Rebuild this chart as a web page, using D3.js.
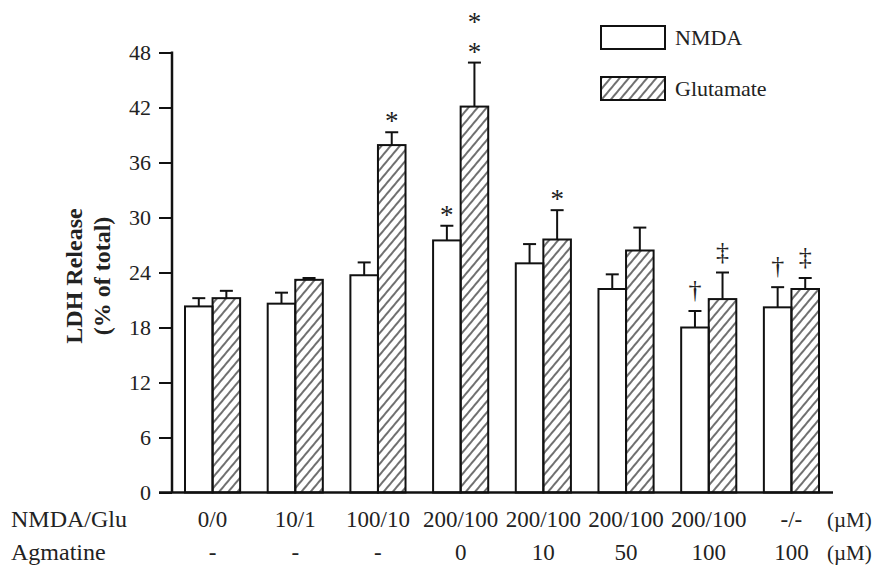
<!DOCTYPE html>
<html>
<head>
<meta charset="utf-8">
<script src="https://cdn.jsdelivr.net/npm/d3@7"></script>
<style>
  body { margin: 0; background: #fff; }
  svg { display: block; }
  text { font-family: "Liberation Serif", "Times New Roman", serif; fill: #222; }
</style>
</head>
<body>
<script>
// waarden
var groups = ["0/0", "10/1", "100/10", "200/100 a0", "200/100 a10", "200/100 a50", "200/100 a100", "-/- a100"];
var nmdaGlu = ["0/0", "10/1", "100/10", "200/100", "200/100", "200/100", "200/100", "-/-"];
var agmatine = ["-", "-", "-", "0", "10", "50", "100", "100"];
var nmda = [20.3, 20.6, 23.7, 27.5, 25.0, 22.2, 18.0, 20.2];
var nmdaErr = [0.9, 1.2, 1.4, 1.6, 2.1, 1.6, 1.8, 2.2];
var glut = [21.2, 23.2, 37.9, 42.1, 27.6, 26.4, 21.1, 22.2];
var glutErr = [0.8, 0.2, 1.4, 4.8, 3.2, 2.5, 2.9, 1.2];
var yTicks = [0, 6, 12, 18, 24, 30, 36, 42, 48];
// tekens boven de foutbalken: groep, reeks, symbolen
var marks = [
  { g: 2, s: "glut", sym: ["*"] },
  { g: 3, s: "nmda", sym: ["*"] },
  { g: 3, s: "glut", sym: ["*", "*"] },
  { g: 4, s: "glut", sym: ["*"] },
  { g: 6, s: "nmda", sym: ["\u2020"] },
  { g: 6, s: "glut", sym: ["\u2021"] },
  { g: 7, s: "nmda", sym: ["\u2020"] },
  { g: 7, s: "glut", sym: ["\u2021"] }
];

var W = 877, H = 567;
var svg = d3.select("body").append("svg")
    .attr("width", W)
    .attr("height", H);

// arcering voor glutamaat
var defs = svg.append("defs");
defs.append("pattern")
    .attr("id", "hatch")
    .attr("patternUnits", "userSpaceOnUse")
    .attr("width", 7)
    .attr("height", 7)
    .attr("patternTransform", "rotate(40)")
  .append("line")
    .attr("x1", 1).attr("y1", 0)
    .attr("x2", 1).attr("y2", 7)
    .attr("stroke", "#222")
    .attr("stroke-width", 1.3);

var x = d3.scaleBand()
    .domain(groups)
    .range([185, 819])
    .paddingInner(1 / 3)
    .paddingOuter(0);
var sub = d3.scaleBand()
    .domain(["nmda", "glut"])
    .range([0, x.bandwidth()]);
var y = d3.scaleLinear()
    .domain([0, 48])
    .range([492.5, 52.5]);

var data = groups.map(function(g, i) {
  return [
    { g: g, i: i, s: "nmda", v: nmda[i], e: nmdaErr[i] },
    { g: g, i: i, s: "glut", v: glut[i], e: glutErr[i] }
  ];
});
var flat = [].concat.apply([], data);

// y-as
var yAxis = d3.axisLeft(y).tickValues(yTicks).tickSize(13).tickPadding(8);
var gy = svg.append("g")
    .attr("transform", "translate(172,0)")
    .call(yAxis);
gy.select(".domain").remove();
gy.selectAll(".tick line").attr("stroke", "#111").attr("stroke-width", 2);
gy.selectAll(".tick text")
    .style("font-family", "Liberation Serif, serif")
    .style("font-size", "22px")
    .attr("fill", "#333");
svg.append("line")
    .attr("x1", 172).attr("x2", 172)
    .attr("y1", y(48) - 1).attr("y2", y(0))
    .attr("stroke", "#111").attr("stroke-width", 2.5);

// foutbalken
var err = svg.append("g").selectAll("g")
    .data(flat)
    .enter().append("g")
    .attr("stroke", "#111")
    .attr("stroke-width", 2);
err.append("line")
    .attr("x1", function(d) { return x(d.g) + sub(d.s) + sub.bandwidth() / 2; })
    .attr("x2", function(d) { return x(d.g) + sub(d.s) + sub.bandwidth() / 2; })
    .attr("y1", function(d) { return y(d.v); })
    .attr("y2", function(d) { return y(d.v + d.e); });
err.append("line")
    .attr("x1", function(d) { return x(d.g) + sub(d.s) + sub.bandwidth() / 2 - 6.5; })
    .attr("x2", function(d) { return x(d.g) + sub(d.s) + sub.bandwidth() / 2 + 6.5; })
    .attr("y1", function(d) { return y(d.v + d.e); })
    .attr("y2", function(d) { return y(d.v + d.e); });

// balken
svg.append("g").selectAll("rect")
    .data(flat)
    .enter().append("rect")
    .attr("x", function(d) { return x(d.g) + sub(d.s); })
    .attr("y", function(d) { return y(d.v); })
    .attr("width", sub.bandwidth())
    .attr("height", function(d) { return y(0) - y(d.v); })
    .attr("fill", function(d) { return d.s === "glut" ? "url(#hatch)" : "#fff"; })
    .attr("stroke", "#111")
    .attr("stroke-width", 2);

// x-as lijn
svg.append("line")
    .attr("x1", 159).attr("x2", 833)
    .attr("y1", y(0)).attr("y2", y(0))
    .attr("stroke", "#111").attr("stroke-width", 2.5);

// significantie tekens
marks.forEach(function(m) {
  var v = m.s === "nmda" ? nmda[m.g] : glut[m.g];
  var e = m.s === "nmda" ? nmdaErr[m.g] : glutErr[m.g];
  var cx = x(groups[m.g]) + sub(m.s) + sub.bandwidth() / 2;
  var top = y(v + e);
  m.sym.forEach(function(s, k) {
    var isStar = s === "*";
    svg.append("text")
      .attr("x", cx)
      .attr("y", isStar ? top - 2 - k * 30 : top - 13)
      .attr("text-anchor", "middle")
      .style("font-size", isStar ? "27px" : "26px")
      .attr("fill", isStar ? "#555" : "#333")
      .text(s);
  });
});

// y-as titel
var yl = svg.append("text")
    .attr("transform", "translate(74,276) rotate(-90)")
    .attr("text-anchor", "middle")
    .style("font-size", "24px")
    .style("font-weight", "bold");
yl.append("tspan").attr("x", 0).attr("dy", "0.35em").text("LDH Release");
yl.append("tspan").attr("x", 0).attr("dy", "1.15em").text("(% of total)");

// onderste labels
svg.append("text").attr("x", 11).attr("y", 527).style("font-size", "24px").text("NMDA/Glu");
svg.append("text").attr("x", 11).attr("y", 560).style("font-size", "24px").text("Agmatine");
svg.selectAll(".lab1")
    .data(nmdaGlu)
    .enter().append("text")
    .attr("class", "lab1")
    .attr("x", function(d, i) { return x(groups[i]) + x.bandwidth() / 2; })
    .attr("y", 527)
    .attr("text-anchor", "middle")
    .style("font-size", "23px")
    .text(function(d) { return d; });
svg.selectAll(".lab2")
    .data(agmatine)
    .enter().append("text")
    .attr("class", "lab2")
    .attr("x", function(d, i) { return x(groups[i]) + x.bandwidth() / 2; })
    .attr("y", 560)
    .attr("text-anchor", "middle")
    .style("font-size", "23px")
    .text(function(d) { return d; });
svg.append("text").attr("x", 827).attr("y", 527).style("font-size", "21px").text("(\u00b5M)");
svg.append("text").attr("x", 827).attr("y", 560).style("font-size", "21px").text("(\u00b5M)");

// legenda
var legend = [
  { name: "NMDA", fill: "#fff" },
  { name: "Glutamate", fill: "url(#hatch)" }
];
var lg = svg.selectAll(".legend")
    .data(legend)
    .enter().append("g")
    .attr("class", "legend")
    .attr("transform", function(d, i) { return "translate(601," + (26 + i * 51) + ")"; });
lg.append("rect")
    .attr("width", 64).attr("height", 23)
    .attr("fill", function(d) { return d.fill; })
    .attr("stroke", "#111").attr("stroke-width", 2);
lg.append("text")
    .attr("x", 74).attr("y", 19)
    .style("font-size", "22px")
    .text(function(d) { return d.name; });
</script>
</body>
</html>
